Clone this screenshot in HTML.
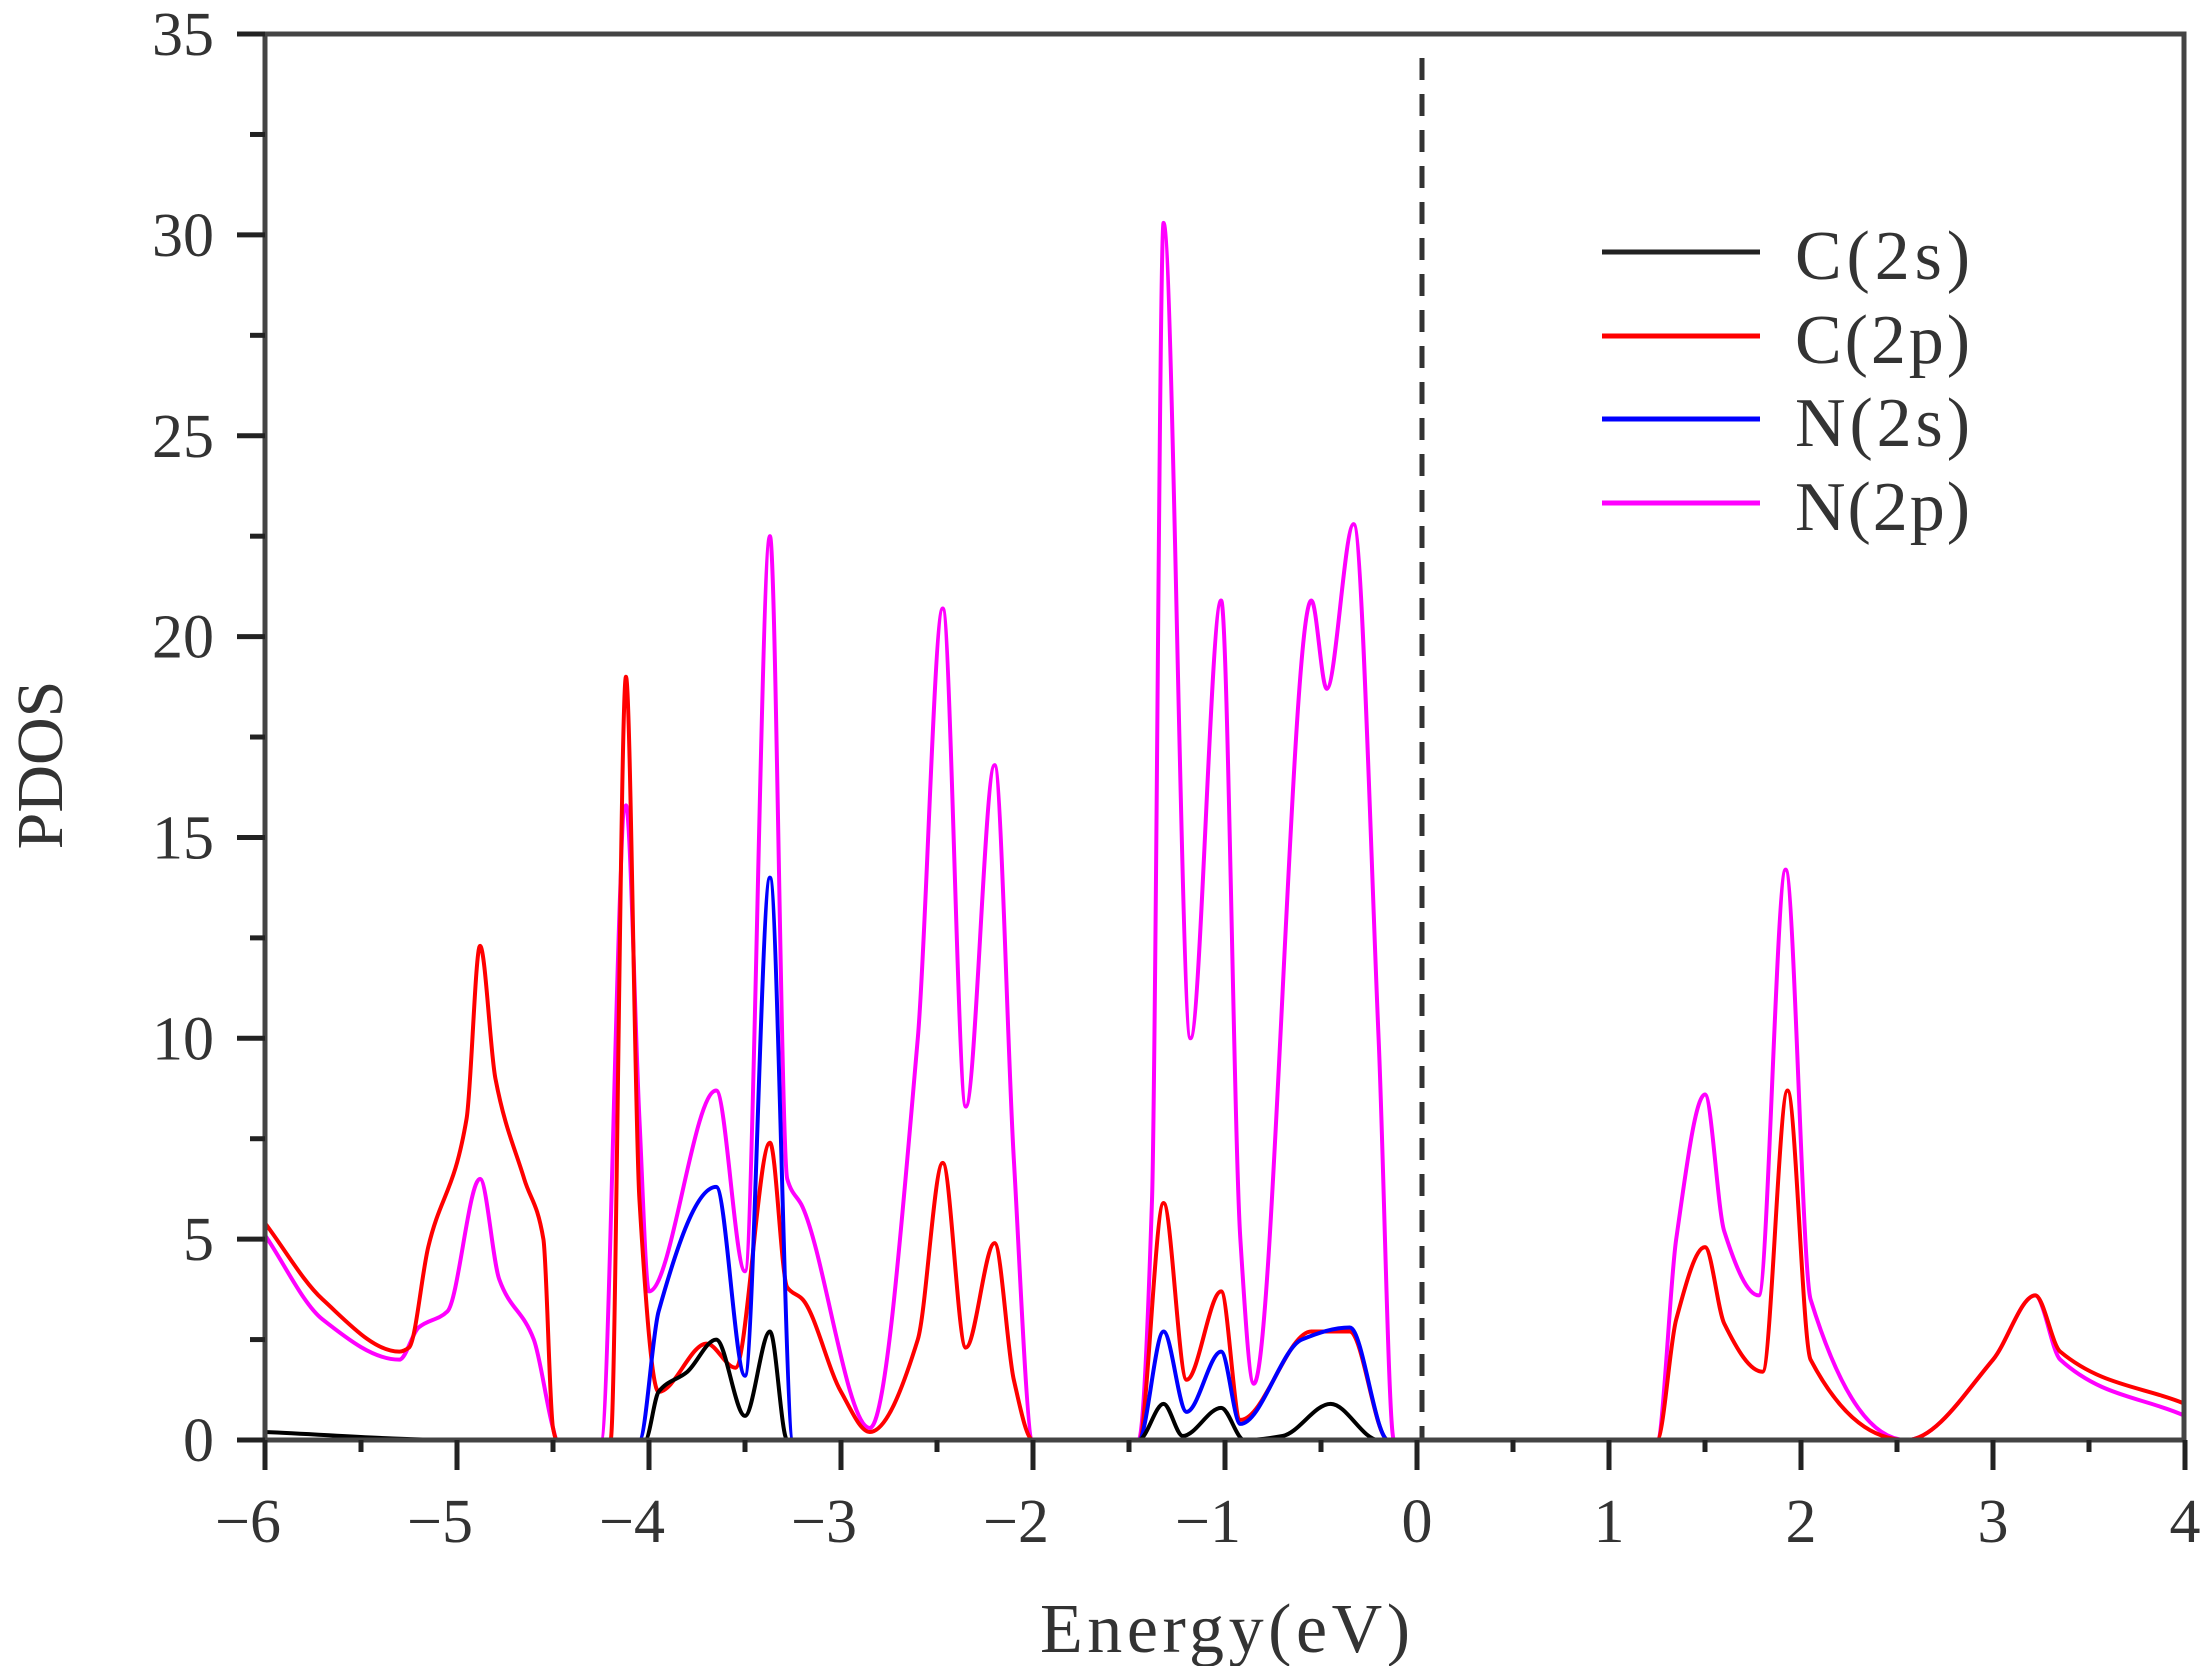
<!DOCTYPE html>
<html><head><meta charset="utf-8"><style>
html,body{margin:0;padding:0;background:#fff;}
svg{display:block;}
text{font-family:"Liberation Serif","Noto Serif CJK SC",serif;fill:#333;}
</style></head><body>
<svg id="s" width="2212" height="1666" xmlns="http://www.w3.org/2000/svg">
<g id="curves" fill="none" stroke-width="4" stroke-linejoin="round"></g>
<line x1="1422" y1="58" x2="1422" y2="1440" stroke="#333" stroke-width="5" stroke-dasharray="22,14"/>
<rect x="265" y="34" width="1919" height="1406" fill="none" stroke="#444" stroke-width="5"/>
<g id="ticks" stroke="#222" stroke-width="5"></g>
<g id="labels" font-size="62"></g>
<g stroke-width="5">
<line x1="1602" y1="252" x2="1760" y2="252" stroke="#222"/>
<line x1="1602" y1="336" x2="1760" y2="336" stroke="#f00"/>
<line x1="1602" y1="419" x2="1760" y2="419" stroke="#00f"/>
<line x1="1602" y1="503" x2="1760" y2="503" stroke="#f0f"/>
</g>
<g font-size="70">
<text x="1795" y="279" textLength="175" lengthAdjust="spacing">C(2s)</text>
<text x="1795" y="363" textLength="175" lengthAdjust="spacing">C(2p)</text>
<text x="1795" y="446" textLength="175" lengthAdjust="spacing">N(2s)</text>
<text x="1795" y="530" textLength="175" lengthAdjust="spacing">N(2p)</text>
</g>
<text x="1225" y="1652" font-size="70" text-anchor="middle" textLength="370" lengthAdjust="spacing">Energy(eV)</text>
<text transform="translate(62,765) rotate(-90)" font-size="66" text-anchor="middle">PDOS</text>
</svg>
<script>
const X=e=>265+(e+6)*192, Y=v=>1440-v*40.17;
function path(pts){
 const x=pts.map(a=>X(a[0])), y=pts.map(a=>Y(a[1])), n=x.length;
 const d=[],m=new Array(n);
 for(let i=0;i<n-1;i++) d.push((y[i+1]-y[i])/(x[i+1]-x[i]));
 m[0]=d[0]; m[n-1]=d[n-2];
 for(let i=1;i<n-1;i++){ if(d[i-1]*d[i]<=0) m[i]=0; else { const h0=x[i]-x[i-1],h1=x[i+1]-x[i];
   const w1=2*h1+h0,w2=h1+2*h0; m[i]=(w1+w2)/(w1/d[i-1]+w2/d[i]); } }
 let s=`M${x[0]},${y[0]}`;
 for(let i=0;i<n-1;i++){const h=(x[i+1]-x[i])/3;
  s+=` C${x[i]+h},${y[i]+m[i]*h} ${x[i+1]-h},${y[i+1]-m[i+1]*h} ${x[i+1]},${y[i+1]}`;}
 return s;
}
const S={
"#f0f":[[-6,5.1],[-5.7,3],[-5.3,2],[-5.2,2.8],[-5.05,3.2],[-4.88,6.5],[-4.78,4],[-4.6,2.5],[-4.5,0.3],[-4.48,0],[-4.25,0],[-4.12,15.8],[-4.05,8],[-4.0,3.7],[-3.65,8.7],[-3.5,4.2],[-3.37,22.5],[-3.28,6.5],[-3.2,5.8],[-2.85,0.3],[-2.6,10],[-2.47,20.7],[-2.35,8.3],[-2.2,16.8],[-2.1,7],[-2.0,0],[-1.45,0],[-1.38,6],[-1.32,30.3],[-1.18,10],[-1.02,20.9],[-0.92,5],[-0.85,1.4],[-0.55,20.9],[-0.47,18.7],[-0.33,22.8],[-0.2,10],[-0.12,0],[1.25,0],[1.35,5],[1.5,8.6],[1.6,5.2],[1.78,3.6],[1.92,14.2],[2.05,3.5],[2.55,0],[3.0,2],[3.22,3.6],[3.35,2],[4,0.6]],
"#f00":[[-6,5.4],[-5.7,3.5],[-5.3,2.2],[-5.25,2.3],[-5.15,4.8],[-4.95,8],[-4.88,12.3],[-4.8,9],[-4.65,6.5],[-4.55,5],[-4.5,0.3],[-4.48,0],[-4.2,0],[-4.12,19],[-4.05,6],[-3.95,1.2],[-3.7,2.4],[-3.55,1.8],[-3.37,7.4],[-3.28,3.8],[-3.2,3.5],[-3.0,1.2],[-2.85,0.2],[-2.6,2.5],[-2.47,6.9],[-2.35,2.3],[-2.2,4.9],[-2.1,1.5],[-2.0,0],[-1.45,0],[-1.32,5.9],[-1.2,1.5],[-1.02,3.7],[-0.92,0.5],[-0.55,2.7],[-0.35,2.7],[-0.15,0],[1.25,0],[1.35,3],[1.5,4.8],[1.6,2.9],[1.8,1.7],[1.93,8.7],[2.05,2],[2.55,0],[3.0,2],[3.22,3.6],[3.35,2.2],[4,0.9]],
"#00f":[[-6,0],[-4.05,0],[-3.95,3.2],[-3.65,6.3],[-3.5,1.6],[-3.37,14],[-3.25,0],[-1.45,0],[-1.32,2.7],[-1.2,0.7],[-1.02,2.2],[-0.92,0.4],[-0.6,2.5],[-0.35,2.8],[-0.15,0],[4,0]],
"#000":[[-6,0.2],[-5,0],[-4.02,0],[-3.95,1.2],[-3.8,1.7],[-3.65,2.5],[-3.5,0.6],[-3.37,2.7],[-3.28,0],[-1.45,0],[-1.32,0.9],[-1.22,0.1],[-1.02,0.8],[-0.9,0],[-0.7,0.1],[-0.45,0.9],[-0.2,0],[4,0]]
};
let g=document.getElementById("curves"),h="";
for(const c of ["#f0f","#f00","#00f","#000"]) h+=`<path d="${path(S[c])}" stroke="${c}"/>`;
g.innerHTML=h;
let t="",l="";
for(let v=0;v<=35;v+=2.5){const y=Y(v),L=v%5==0?28:15;t+=`<line x1="${265-L}" y1="${y}" x2="265" y2="${y}"/>`;
 if(v%5==0)l+=`<text x="214" y="${y+21}" text-anchor="end">${v}</text>`;}
for(let e=-6;e<=4;e+=0.5){const x=X(e),L=Number.isInteger(e)?30:12;t+=`<line x1="${x}" y1="1440" x2="${x}" y2="${1440+L}"/>`;
 if(Number.isInteger(e))l+=`<text x="${x-(e<0?17:0)}" y="1542" text-anchor="middle">${e<0?"\u2212"+(-e):e}</text>`;}
document.getElementById("ticks").innerHTML=t;
document.getElementById("labels").innerHTML=l;
</script>
</body></html>
